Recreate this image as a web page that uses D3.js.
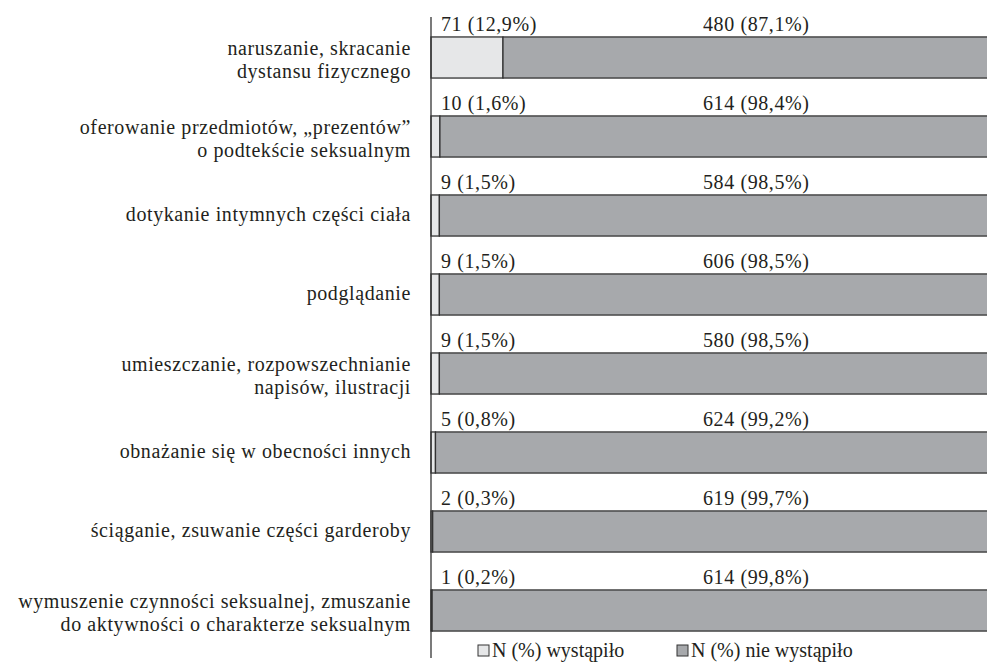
<!DOCTYPE html>
<html lang="pl">
<head>
  <meta charset="UTF-8" />
  <title>Wykres</title>
  <style>
    body { margin: 0; background: #fff; }
    svg { display: block; font-family: "Liberation Serif", "DejaVu Serif", serif; letter-spacing: 0.6px; }
    .legend text { letter-spacing: 0; }
  </style>
</head>
<body>
  <div id="chart"></div>
  <script src="https://d3js.org/d3.v7.min.js"></script>
  <script>
    const categories = [
      ["naruszanie, skracanie", "dystansu fizycznego"],
      ["oferowanie przedmiotów, „prezentów”", "o podtekście seksualnym"],
      ["dotykanie intymnych części ciała"],
      ["podglądanie"],
      ["umieszczanie, rozpowszechnianie", "napisów, ilustracji"],
      ["obnażanie się w obecności innych"],
      ["ściąganie, zsuwanie części garderoby"],
      ["wymuszenie czynności seksualnej, zmuszanie", "do aktywności o charakterze seksualnym"]
    ];
    const occurredN = [71, 10, 9, 9, 9, 5, 2, 1];
    const occurredPct = [12.9, 1.6, 1.5, 1.5, 1.5, 0.8, 0.3, 0.2];
    const notOccurredN = [480, 614, 584, 606, 580, 624, 619, 614];
    const notOccurredPct = [87.1, 98.4, 98.5, 98.5, 98.5, 99.2, 99.7, 99.8];
    const legendLabels = ["N (%) wystąpiło", "N (%) nie wystąpiło"];

    const width = 987, height = 662;
    const colors = ["#e6e7e8", "#a7a9ac"];
    const fmt = v => String(v).replace(".", ",");
    const fs = 20;

    const svg = d3.select("#chart").append("svg")
      .attr("width", width).attr("height", height);

    const x = d3.scaleLinear().domain([0, 100]).range([431, 989]);
    const y = d3.scaleBand().domain(d3.range(categories.length))
      .range([18, 650]).paddingInner(0.48).paddingOuter(0.24);

    const rows = svg.append("g").selectAll("g")
      .data(categories).enter().append("g");

    // light segment (wystąpiło)
    rows.append("rect")
      .attr("x", x(0))
      .attr("y", (d, i) => y(i))
      .attr("width", (d, i) => x(occurredPct[i]) - x(0))
      .attr("height", y.bandwidth())
      .attr("fill", colors[0]).attr("stroke", "#333").attr("stroke-width", 1.3);

    // dark segment (nie wystąpiło)
    rows.append("rect")
      .attr("x", (d, i) => x(occurredPct[i]))
      .attr("y", (d, i) => y(i))
      .attr("width", (d, i) => x(100) - x(occurredPct[i]) + 5)
      .attr("height", y.bandwidth())
      .attr("fill", colors[1]).attr("stroke", "#333").attr("stroke-width", 1.3);

    // value labels above bars
    rows.append("text")
      .attr("x", 441).attr("y", (d, i) => y(i) - 6)
      .attr("font-size", fs).attr("fill", "#231f20")
      .text((d, i) => `${occurredN[i]} (${fmt(occurredPct[i])}%)`);
    rows.append("text")
      .attr("x", 703).attr("y", (d, i) => y(i) - 6)
      .attr("font-size", fs).attr("fill", "#231f20")
      .text((d, i) => `${notOccurredN[i]} (${fmt(notOccurredPct[i])}%)`);

    // category labels, right aligned left of the axis
    rows.append("text")
      .attr("text-anchor", "end").attr("font-size", fs).attr("fill", "#231f20")
      .each(function (d, i) {
        const t = d3.select(this);
        const cy = y(i) + y.bandwidth() / 2;
        const lh = 23;
        const y0 = cy + 5 - (d.length - 1) * 7.5;
        d.forEach((line, k) => {
          t.append("tspan").attr("x", 411).attr("y", y0 + k * lh).text(line);
        });
      });

    // vertical axis line
    svg.append("line")
      .attr("x1", x(0)).attr("x2", x(0))
      .attr("y1", 17).attr("y2", 658)
      .attr("stroke", "#333").attr("stroke-width", 1.3);

    // legend
    const legendX = [478, 677];
    const legend = svg.append("g").attr("class", "legend").selectAll("g")
      .data(legendLabels).enter().append("g")
      .attr("transform", (d, i) => `translate(${legendX[i]},645)`);
    legend.append("rect")
      .attr("width", 11).attr("height", 11)
      .attr("fill", (d, i) => colors[i]).attr("stroke", "#333").attr("stroke-width", 1);
    legend.append("text")
      .attr("x", 14).attr("y", 12)
      .attr("font-size", fs).attr("fill", "#231f20")
      .text(d => d);
  </script>
</body>
</html>
